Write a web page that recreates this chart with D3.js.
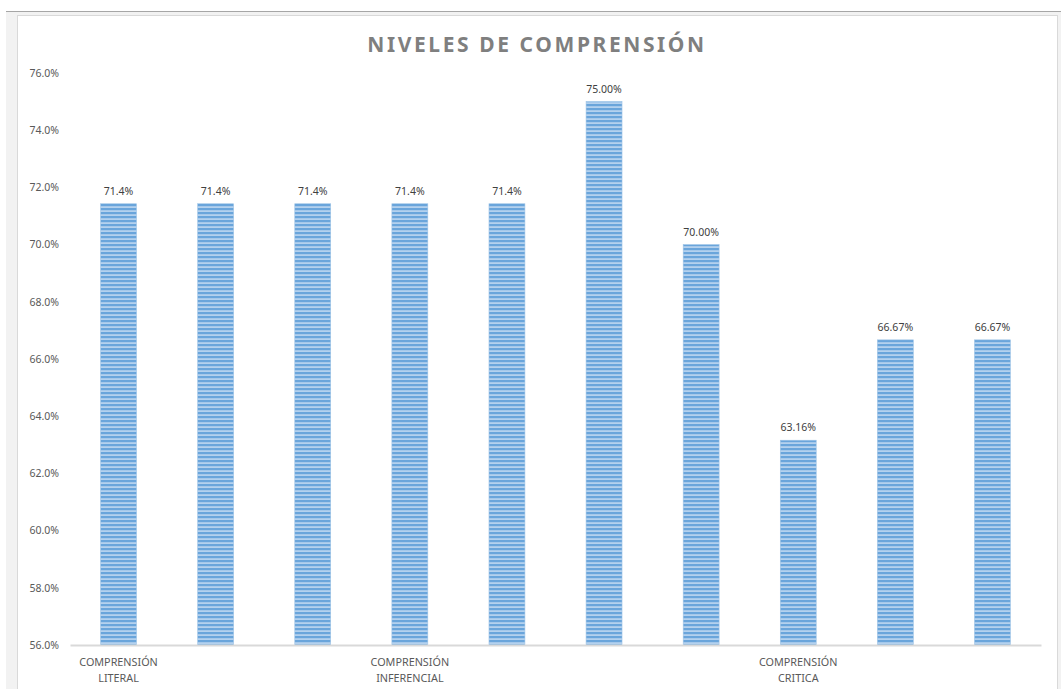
<!DOCTYPE html>
<html>
<head>
<meta charset="utf-8">
<script src="https://cdn.jsdelivr.net/npm/d3@7"></script>
<style>
  body { margin: 0; background: #fff; }
  svg { display: block; }
</style>
</head>
<body>
<svg id="chart" width="1061" height="689"></svg>
<script>
// chart data
var categories = ["COMPRENSIÓN LITERAL", "", "", "COMPRENSIÓN INFERENCIAL", "", "", "", "COMPRENSIÓN CRITICA", "", ""];
var values = [71.43, 71.43, 71.43, 71.43, 71.43, 75.00, 70.00, 63.16, 66.67, 66.67];
var valueLabels = ["71.4%", "71.4%", "71.4%", "71.4%", "71.4%", "75.00%", "70.00%", "63.16%", "66.67%", "66.67%"];
var yTicks = [56, 58, 60, 62, 64, 66, 68, 70, 72, 74, 76];

var svg = d3.select("#chart");
var font = "Noto Sans, sans-serif";

// window frame
svg.append("rect").attr("x", 6).attr("y", 11).attr("width", 1055).attr("height", 678).attr("fill", "#f2f2f2");
svg.append("line").attr("x1", 6).attr("x2", 1061).attr("y1", 11.5).attr("y2", 11.5)
    .attr("stroke", "#a6a6a6").attr("stroke-width", 1);
svg.append("rect").attr("x", 17.5).attr("y", 15.5).attr("width", 1040).attr("height", 680)
    .attr("fill", "#fff").attr("stroke", "#d9d9d9");

// striped fill
var defs = svg.append("defs");
var pat = defs.append("pattern").attr("id", "stripes")
    .attr("patternUnits", "userSpaceOnUse").attr("width", 8).attr("height", 4);
pat.append("rect").attr("width", 8).attr("height", 4).attr("fill", "#b4d1ee");
pat.append("rect").attr("y", 0).attr("width", 8).attr("height", 2.2).attr("fill", "#6aa5db");

var margin = {left: 70, right: 1041, top: 73, bottom: 645};

var x = d3.scaleBand()
    .domain(d3.range(values.length))
    .range([margin.left, margin.right])
    .paddingInner(0.63).paddingOuter(0.315);

var y = d3.scaleLinear()
    .domain([56, 76])
    .range([margin.bottom, margin.top]);

// title
svg.append("text")
    .attr("x", 537).attr("y", 52)
    .attr("text-anchor", "middle")
    .style("font-family", font)
    .style("font-size", "21px")
    .style("font-weight", "bold")
    .style("letter-spacing", "2.6px")
    .style("fill", "#7f7f7f")
    .text("NIVELES DE COMPRENSIÓN");

// y axis labels
var yAxis = svg.append("g")
    .attr("transform", "translate(" + 59 + ",0)")
    .call(d3.axisLeft(y).tickValues(yTicks).tickSize(0).tickPadding(0)
        .tickFormat(function(d) { return d.toFixed(1) + "%"; }));
yAxis.select(".domain").remove();
yAxis.selectAll("text")
    .style("font-family", font)
    .style("font-size", "10.5px")
    .style("fill", "#595959");

// bars
svg.append("g").selectAll("rect")
    .data(values)
    .enter().append("rect")
    .attr("x", function(d, i) { return x(i); })
    .attr("y", function(d) { return y(d); })
    .attr("width", x.bandwidth())
    .attr("height", function(d) { return y(56) - y(d); })
    .attr("fill", "url(#stripes)")
    .attr("stroke", "#9dc3e6")
    .attr("stroke-width", 0.6);

// value labels
svg.append("g").selectAll("text")
    .data(values)
    .enter().append("text")
    .attr("x", function(d, i) { return x(i) + x.bandwidth() / 2; })
    .attr("y", function(d) { return y(d) - 9; })
    .attr("text-anchor", "middle")
    .style("font-family", font)
    .style("font-size", "10.5px")
    .style("fill", "#404040")
    .text(function(d, i) { return valueLabels[i]; });

// x axis
var xAxis = svg.append("g")
    .attr("transform", "translate(0," + margin.bottom + ")")
    .call(d3.axisBottom(x).tickSize(0).tickFormat(""));
xAxis.select(".domain").attr("stroke", "#d9d9d9").attr("stroke-width", 2);

// category labels, two lines each
var cats = svg.append("g").selectAll("text")
    .data(categories)
    .enter().append("text")
    .attr("text-anchor", "middle")
    .style("font-family", font)
    .style("font-size", "10.8px")
    .style("fill", "#595959");
cats.each(function(d, i) {
  var parts = d.split(" ");
  var t = d3.select(this);
  parts.forEach(function(p, j) {
    if (!p) return;
    t.append("tspan")
      .attr("x", x(i) + x.bandwidth() / 2)
      .attr("y", 666 + j * 16)
      .text(p);
  });
});
</script>
</body>
</html>
